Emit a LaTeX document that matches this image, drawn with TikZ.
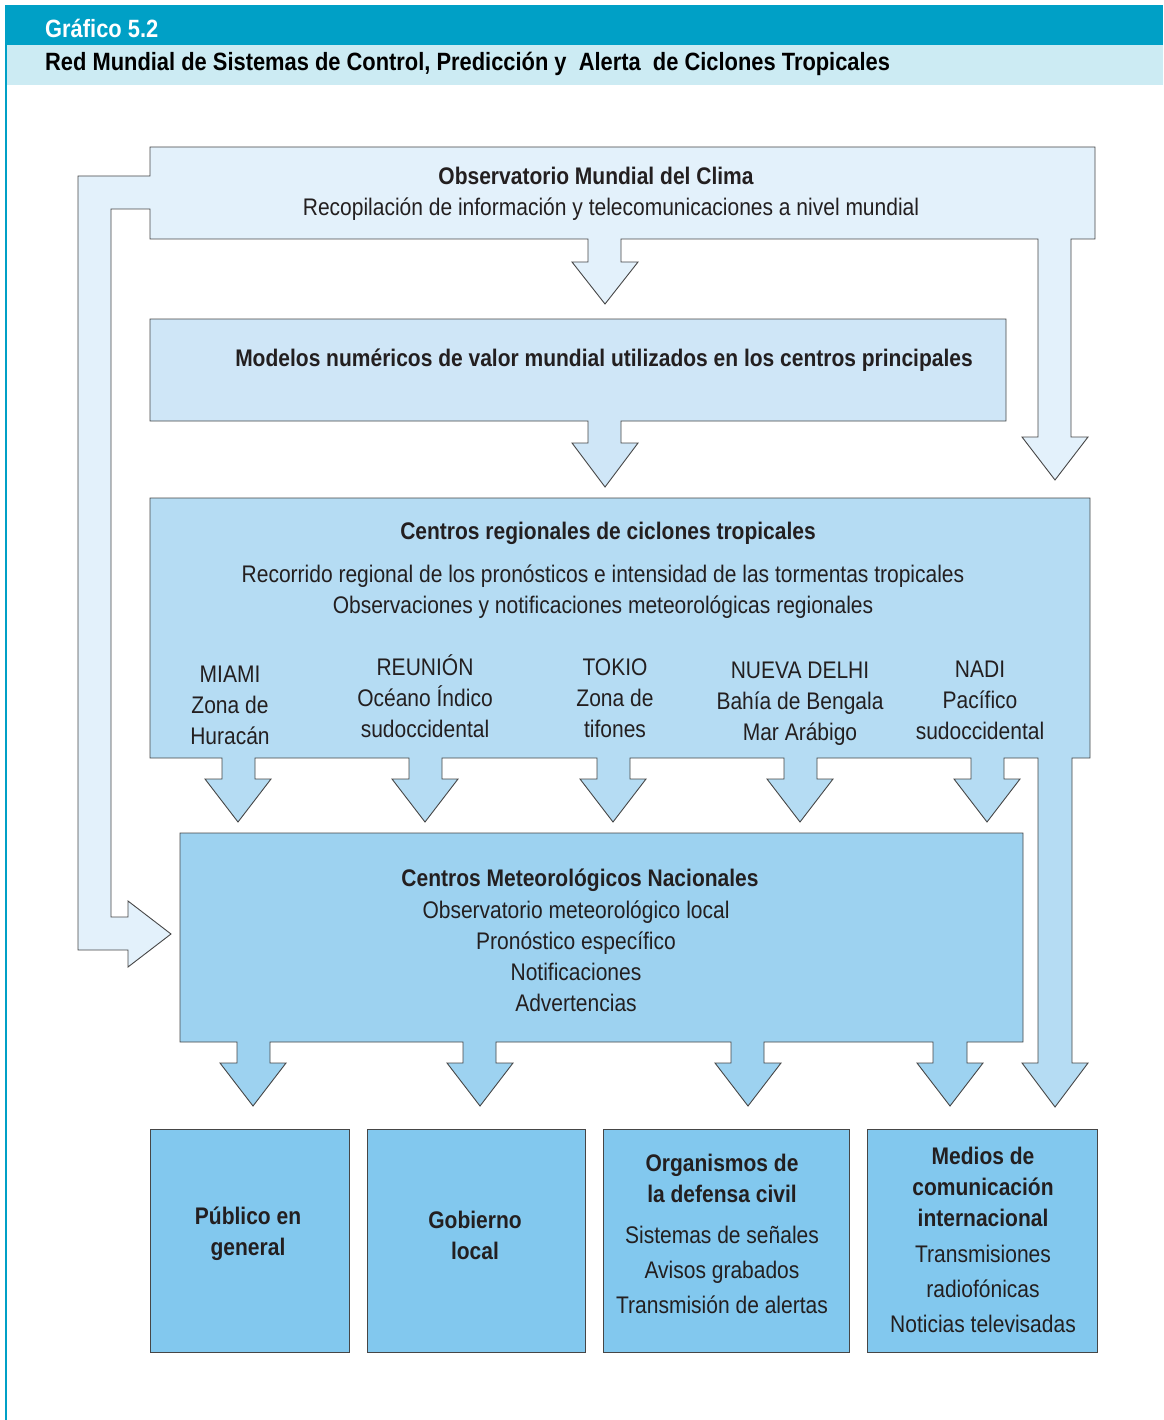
\documentclass[tikz,border=0pt]{standalone}
\usepackage{fontspec}
\setmainfont{Liberation Sans}[FakeStretch=0.875]
\usetikzlibrary{positioning}

\definecolor{hdrdark}{RGB}{0,160,198}
\definecolor{hdrlight}{RGB}{204,235,243}
\definecolor{fillA}{RGB}{227,241,251}
\definecolor{fillB}{RGB}{207,230,247}
\definecolor{fillC}{RGB}{181,220,243}
\definecolor{fillD}{RGB}{157,210,240}
\definecolor{fillE}{RGB}{130,200,238}
\definecolor{edge}{RGB}{70,70,70}
\definecolor{ink}{RGB}{35,31,32}

\tikzset{
  panel/.style={draw=edge, line width=0.9pt, line join=miter},
  txt/.style={text=ink, align=center, inner sep=0pt, font=\fontsize{24}{31}\selectfont},
  txtb/.style={txt, font=\fontsize{24}{31}\selectfont\bfseries},
  big/.style={text=ink, align=center, inner sep=0pt, font=\fontsize{24}{35}\selectfont},
  bigb/.style={big, font=\fontsize{24}{31}\selectfont\bfseries}
}

\begin{document}
\begin{tikzpicture}[x=1pt,y=-1pt]
  \useasboundingbox (0,0) rectangle (1163,1420);
  % header
  \fill[hdrdark] (5,5) rectangle (1163,45);
  \fill[hdrlight] (5,45) rectangle (1163,85);
  \draw[hdrdark, line width=2pt] (6,45) -- (6,1420);
  \node[anchor=base west, inner sep=0pt, text=white, font=\fontsize{25}{26}\selectfont\bfseries] (num) at (45,38) {Gráfico 5.2};
  \node[anchor=base west, inner sep=0pt, text=black, font=\fontsize{25}{26}\selectfont\bfseries] (title) at (45,71)
    {Red Mundial de Sistemas de Control, Predicción y~ Alerta~ de Ciclones Tropicales};
  %
  % observatorio, with its three arrows
  \draw[panel, fill=fillA] (150,147) -- (1095,147) -- (1095,239)
    -- (1071,239) -- (1071,437) -- (1088,437) -- (1055,480) -- (1022,437) -- (1038,437) -- (1038,239)
    -- (621,239) -- (621,262) -- (638,262) -- (605,304) -- (572,262) -- (588,262) -- (588,239)
    -- (150,239) -- (150,209) -- (111,209) -- (111,917) -- (128,917) -- (128,901)
    -- (171,934) -- (128,967) -- (128,950) -- (78,950) -- (78,176) -- (150,176) -- cycle;
  \node[txtb] (obs) at (596,176) {Observatorio Mundial del Clima};
  \node[txt] (obsinfo) at (611,209) {Recopilación de información y telecomunicaciones a nivel mundial};
  %
  % modelos
  \draw[panel, fill=fillB] (150,319) -- (1006,319) -- (1006,421)
    -- (621,421) -- (621,443) -- (638,443) -- (605,487) -- (572,443) -- (588,443) -- (588,421)
    -- (150,421) -- cycle;
  \node[txtb] (mod) at (604,360) {Modelos numéricos de valor mundial utilizados en los centros principales};
  %
  % centros regionales
  \draw[panel, fill=fillC] (150,498) -- (1090,498) -- (1090,758)
    -- (1072,758) -- (1072,1063) -- (1088,1063) -- (1055,1107) -- (1022,1063) -- (1038,1063) -- (1038,758)
    -- (1004,758) -- (1004,779) -- (1020,779) -- (987,822) -- (954,779) -- (971,779) -- (971,758)
    -- (817,758) -- (817,779) -- (833,779) -- (800,822) -- (767,779) -- (784,779) -- (784,758)
    -- (630,758) -- (630,779) -- (646,779) -- (613,822) -- (580,779) -- (597,779) -- (597,758)
    -- (442,758) -- (442,779) -- (458,779) -- (425,822) -- (392,779) -- (409,779) -- (409,758)
    -- (255,758) -- (255,779) -- (271,779) -- (238,822) -- (205,779) -- (222,779) -- (222,758)
    -- (150,758) -- cycle;
  \node[txtb] (reg) at (608,533) {Centros regionales de ciclones tropicales};
  \node[txt] (reginfo) at (603,592) {Recorrido regional de los pronósticos e intensidad de las tormentas tropicales\\
    Observaciones y notificaciones meteorológicas regionales};
  \node[txt] (miami) at (230,705) {MIAMI\\Zona de\\Huracán};
  \node[txt] (reunion) at (425,696) {REUNIÓN\\Océano Índico\\sudoccidental};
  \node[txt] (tokio) at (615,698) {TOKIO\\Zona de\\tifones};
  \node[txt] (delhi) at (800,704) {NUEVA DELHI\\Bahía de Bengala\\Mar Arábigo};
  \node[txt] (nadi) at (980,700) {NADI\\Pacífico\\sudoccidental};
  %
  % centros nacionales
  \draw[panel, fill=fillD] (180,833) -- (1023,833) -- (1023,1042)
    -- (967,1042) -- (967,1063) -- (983,1063) -- (950,1106) -- (917,1063) -- (933,1063) -- (933,1042)
    -- (764,1042) -- (764,1063) -- (781,1063) -- (748,1106) -- (715,1063) -- (731,1063) -- (731,1042)
    -- (496,1042) -- (496,1063) -- (513,1063) -- (480,1106) -- (447,1063) -- (463,1063) -- (463,1042)
    -- (270,1042) -- (270,1063) -- (286,1063) -- (253,1106) -- (220,1063) -- (237,1063) -- (237,1042)
    -- (180,1042) -- cycle;
  \node[txtb] (nac) at (580,880) {Centros Meteorológicos Nacionales};
  \node[txt] (nacinfo) at (576,956) {Observatorio meteorológico local\\Pronóstico específico\\Notificaciones\\Advertencias};
  %
  % destinatarios
  \draw[panel, fill=fillE] (150,1129) rectangle (349,1352);
  \draw[panel, fill=fillE] (367,1129) rectangle (585,1352);
  \draw[panel, fill=fillE] (603,1129) rectangle (849,1352);
  \draw[panel, fill=fillE] (867,1129) rectangle (1097,1352);
  \node[bigb] (pub) at (248,1234) {Público en\\general};
  \node[bigb] (gob) at (475,1235) {Gobierno\\local};
  \node[bigb] (civ) at (722,1178) {Organismos de\\la defensa civil};
  \node[big] (civinfo) at (722,1270) {Sistemas de señales\\Avisos grabados\\Transmisión de alertas};
  \node[bigb] (med) at (983,1187) {Medios de\\comunicación\\internacional};
  \node[big] (medinfo) at (983,1289) {Transmisiones\\radiofónicas\\Noticias televisadas};
\end{tikzpicture}
\end{document}
